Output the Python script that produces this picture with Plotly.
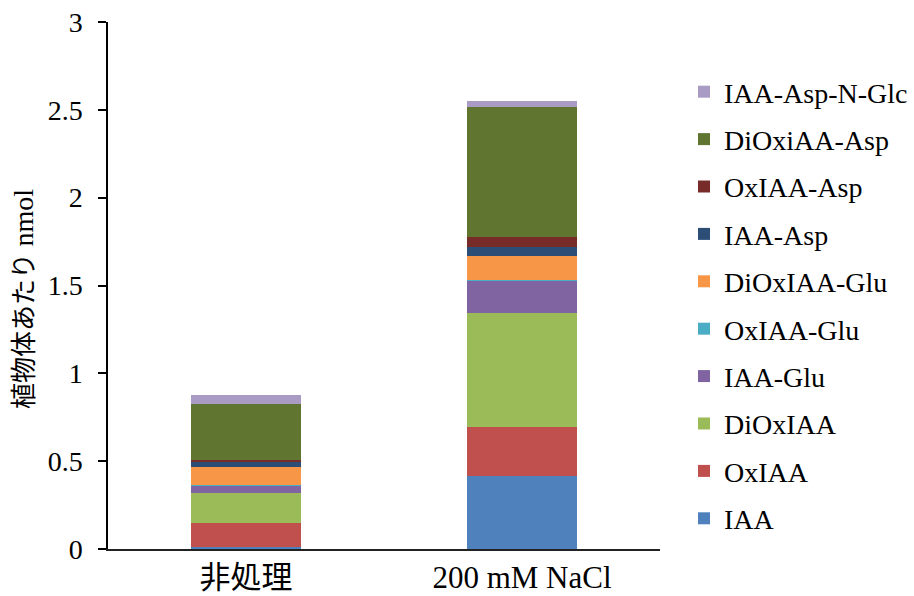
import plotly.graph_objects as go

categories = ["非処理", "200 mM NaCl"]
series_names = ["IAA", "OxIAA", "DiOxIAA", "IAA-Glu", "OxIAA-Glu", "DiOxIAA-Glu",
                "IAA-Asp", "OxIAA-Asp", "DiOxiAA-Asp", "IAA-Asp-N-Glc"]
IAA = [0.013, 0.415]
OxIAA = [0.137, 0.281]
DiOxIAA = [0.170, 0.649]
IAA_Glu = [0.044, 0.182]
OxIAA_Glu = [0.002, 0.002]
DiOxIAA_Glu = [0.101, 0.140]
IAA_Asp = [0.026, 0.048]
OxIAA_Asp = [0.016, 0.061]
DiOxiAA_Asp = [0.318, 0.736]
IAA_Asp_N_Glc = [0.052, 0.036]
series_values = [IAA, OxIAA, DiOxIAA, IAA_Glu, OxIAA_Glu, DiOxIAA_Glu,
                 IAA_Asp, OxIAA_Asp, DiOxiAA_Asp, IAA_Asp_N_Glc]
colors = ["#4F81BD", "#C0504D", "#9BBB59", "#8064A2", "#4BACC6", "#F79646",
          "#2C4D75", "#772C2A", "#5F7530", "#A99BC4"]
y_ticks = [0, 0.5, 1, 1.5, 2, 2.5, 3]
y_tick_labels = ["0", "0.5", "1", "1.5", "2", "2.5", "3"]

W, H = 914, 596
L, R, T, B = 108, 660, 22, 549

fig = go.Figure()
for i, (name, vals, col) in enumerate(zip(series_names, series_values, colors)):
    fig.add_trace(go.Bar(x=categories, y=vals, name=name, marker_color=col,
                         marker_line_width=0, legendgroup=name, legendrank=1000 - i,
                         width=0.40))

serif = "Liberation Serif, Times New Roman, serif"
cjk = "Noto Sans CJK JP, sans-serif"

fig.update_layout(
    width=W, height=H, barmode="stack",
    margin=dict(l=L, r=W - R, t=T, b=H - B, pad=0, autoexpand=False),
    paper_bgcolor="white", plot_bgcolor="white",
    font=dict(family=serif, color="black"),
    showlegend=True,
    legend=dict(x=(684 - L) / (R - L), xanchor="left", y=(549 - 67) / (B - T), yanchor="top",
                traceorder="grouped", tracegroupgap=8,
                font=dict(family=serif, size=28, color="black"),
                itemwidth=30, bgcolor="rgba(0,0,0,0)"),
    xaxis=dict(showline=True, linecolor="#222", linewidth=2, ticks="",
               tickfont=dict(family=serif + ", " + cjk, size=31, color="black"),
               showgrid=False, zeroline=False, automargin=False),
    yaxis=dict(range=[0, 3], tickvals=y_ticks, ticktext=y_tick_labels,
               showline=True, linecolor="black", linewidth=1.5,
               ticks="outside", ticklen=8, tickcolor="black", tickwidth=1.5,
               ticklabelstandoff=10, automargin=False,
               tickfont=dict(family=serif, size=28, color="black"),
               showgrid=False, zeroline=False),
)
fig.add_annotation(
    text="<span style='font-family:Noto Sans CJK JP'>植物体あたり</span> <span style='font-size:28px'>nmol</span>",
    x=(21 - L) / (R - L), y=(B - 299) / (B - T), xref="paper", yref="paper",
    textangle=-90, showarrow=False, xanchor="center", yanchor="middle",
    font=dict(family=serif, size=26, color="black"))

fig.write_html("out.html")
